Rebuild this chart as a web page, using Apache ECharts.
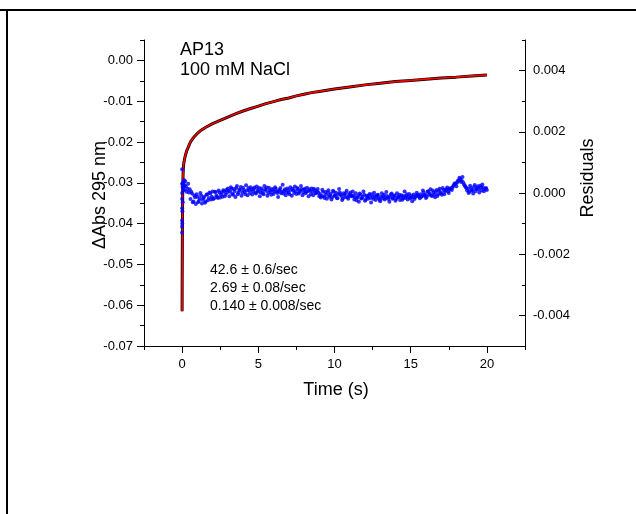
<!DOCTYPE html>
<html>
<head>
<meta charset="utf-8">
<script src="https://cdn.jsdelivr.net/npm/echarts@6/dist/echarts.min.js"></script>
<style>
html,body{margin:0;padding:0;background:#fff;}
#chart{width:636px;height:514px;}
</style>
</head>
<body>
<div id="chart"></div>
<script>
// ---- data ----
// measured trace (time s, ΔAbs)
const traceData = [
  [0, -0.0615], [0.005, -0.0548], [0.01, -0.0494], [0.015, -0.0450], [0.02, -0.0414],
  [0.03, -0.0360], [0.04, -0.0326], [0.05, -0.0302], [0.065, -0.0280], [0.08, -0.0265],
  [0.1, -0.0256], [0.12, -0.0250], [0.16, -0.0242], [0.2, -0.0235], [0.3, -0.0222],
  [0.4, -0.0213], [0.5, -0.0204], [0.6, -0.0197], [0.8, -0.0187], [1.0, -0.0179],
  [1.25, -0.0171], [1.5, -0.0165], [2, -0.0155], [2.5, -0.0147], [3, -0.0139],
  [3.5, -0.0131], [4, -0.0124], [4.5, -0.0118], [5, -0.0112], [5.5, -0.0106],
  [6, -0.0101], [6.5, -0.0096], [7, -0.0092], [7.5, -0.0087], [8, -0.0083],
  [8.5, -0.0079], [9, -0.0076], [9.5, -0.0073], [10, -0.0070], [11, -0.0065],
  [12, -0.0060], [13, -0.0056], [14, -0.0052], [15, -0.0049], [16, -0.0046],
  [17, -0.0043], [18, -0.0041], [19, -0.0038], [20, -0.0036]
];
// triple-exponential fit (overlays the trace)
const fitData = traceData;

// residuals (time s, residual)
const residuals = [
  [0, 0.00078], [0, -0.0013], [0, -0.0011], [0, -0.0009], [0, -0.0005], [0, 0.0003], [0, -0.0002],
  [0.01, -0.0010], [0.01, 0.0000], [0.02, -0.0006], [0.03, 0.0002], [0.04, -0.0003], [0.05, 0.0003],
  [0.07, 0.0001], [0.09, 0.00035], [0.11, 0.0002], [0.13, 0.00042], [0.15, 0.0001], [0.17, 0.00025],
  [0.2, 0.00038], [0.3, 0.00004], [0.4, 0.00030], [0.5, 0.00012],
  [0.6, 0.00004], [0.7, -0.00030], [0.8, -0.00008], [0.9, -0.00036], [1.0, -0.00012], [1.1, -0.00026],
  [1.2, 0.00000], [1.3, -0.00034], [1.4, -0.00016], [1.5, -0.00032], [1.6, -0.00006], [1.7, -0.00024], [1.8, 0.00002],
  [1.9, -0.00021], [2.0, 0.00005], [2.1, -0.00017], [2.2, 0.00003], [2.3, -0.00013], [2.4, 0.00008],
  [2.5, -0.00015], [2.6, 0.00001], [2.7, 0.00009], [2.8, -0.00011], [2.9, 0.00010],
  [3.0, 0.00015], [3.1, -0.00011], [3.2, 0.00019], [3.3, -0.00003], [3.4, 0.00013], [3.5, -0.00013],
  [3.6, 0.00023], [3.7, 0.00001], [3.8, 0.00011], [3.9, -0.00009],
  [4.0, 0.00017], [4.1, 0.00003], [4.2, 0.00025], [4.3, -0.00007], [4.4, 0.00009], [4.5, 0.00019],
  [4.6, -0.00005], [4.7, 0.00013], [4.8, 0.00001], [4.9, 0.00021],
  [5.0, 0.00005], [5.1, -0.00011], [5.2, 0.00015], [5.3, -0.00001], [5.4, 0.00023], [5.5, 0.00007],
  [5.6, -0.00009], [5.7, 0.00017], [5.8, 0.00003], [5.9, 0.00013],
  [6.0, -0.00003], [6.1, 0.00019], [6.2, 0.00005], [6.3, -0.00013], [6.4, 0.00011], [6.5, -0.00001],
  [6.6, 0.00027], [6.7, 0.00007], [6.8, -0.00007], [6.9, 0.00015],
  [7.0, 0.00001], [7.1, 0.00019], [7.2, -0.00009], [7.3, 0.00009], [7.4, 0.00021], [7.5, -0.00003],
  [7.6, 0.00013], [7.7, 0.00003], [7.8, 0.00023], [7.9, -0.00007],
  [8.0, 0.00011], [8.1, -0.00001], [8.2, 0.00017], [8.3, -0.00011], [8.4, 0.00007], [8.5, 0.00015],
  [8.6, -0.00007], [8.7, 0.00009], [8.8, -0.00001], [8.9, 0.00013], [9.0, -0.00011],
  [9.1, -0.00015], [9.2, 0.00011], [9.3, -0.00011], [9.4, 0.00003], [9.5, -0.00019], [9.6, 0.00009],
  [9.7, -0.00007], [9.8, -0.00021], [9.9, 0.00007], [10.0, -0.00009], [10.1, 0.00001], [10.2, -0.00017],
  [10.3, 0.00013], [10.4, -0.00005], [10.5, -0.00023], [10.6, -0.00001], [10.7, -0.00013], [10.8, 0.00007],
  [10.9, -0.00019], [11.0, -0.00003], [11.1, -0.00011], [11.2, 0.00005],
  [11.3, -0.00021], [11.4, -0.00001], [11.5, -0.00015], [11.6, -0.00029], [11.7, -0.00005], [11.8, -0.00017],
  [11.9, 0.00005], [12.0, -0.00025], [12.1, -0.00009], [12.2, -0.00019], [12.3, -0.00003], [12.4, -0.00031],
  [12.5, -0.00013], [12.6, 0.00001], [12.7, -0.00023], [12.8, -0.00007], [12.9, -0.00017], [13.0, -0.00027],
  [13.1, -0.00001], [13.2, -0.00011], [13.3, -0.00021], [13.4, 0.00003], [13.5, -0.00015], [13.6, -0.00029],
  [13.7, -0.00005], [13.8, -0.00019], [13.9, -0.00009], [14.0, -0.00025], [14.1, -0.00001], [14.2, -0.00013],
  [14.3, -0.00023], [14.4, -0.00007], [14.5, -0.00017], [14.6, 0.00005], [14.7, -0.00011], [14.8, -0.00021],
  [14.9, -0.00003], [15.0, -0.00015], [15.1, -0.00027], [15.2, -0.00005], [15.3, -0.00013], [15.4, 0.00001],
  [15.5, -0.00009], [15.6, -0.00017],
  [15.7, -0.00012], [15.8, 0.00008], [15.9, -0.00008], [16.0, -0.00016], [16.1, 0.00004], [16.2, -0.00006],
  [16.3, 0.00012], [16.4, -0.00010], [16.5, 0.00002], [16.6, -0.00014], [16.7, 0.00010], [16.8, -0.00004],
  [16.9, 0.00014], [17.0, -0.00002], [17.1, 0.00016], [17.2, -0.00004], [17.3, 0.00010], [17.4, 0.00018],
  [17.5, 0.00000], [17.6, 0.00012],
  [17.7, 0.00010], [17.8, 0.00024], [17.9, 0.00032], [18.0, 0.00022], [18.1, 0.00040], [18.2, 0.00050],
  [18.3, 0.00036], [18.4, 0.00052], [18.5, 0.00028], [18.6, 0.00020], [18.7, 0.00008],
  [18.8, 0.00000], [18.9, 0.00024], [19.0, 0.00008], [19.1, -0.00002], [19.2, 0.00026], [19.3, 0.00012],
  [19.4, 0.00022], [19.5, 0.00002], [19.6, 0.00018], [19.7, 0.00028], [19.8, 0.00006], [19.9, 0.00014], [20.0, 0.00010]
];
// residuals sampled between the points above
const residualsMid = [
  [0.25, 0.00022], [0.35, 0.00014], [0.45, 0.00002],
  [0.55, -0.00020], [0.65, -0.00002], [0.75, -0.00028], [0.85, -0.00014], [0.95, -0.00004], [1.05, -0.00030],
  [1.15, -0.00018], [1.25, -0.00008], [1.35, -0.00022], [1.45, -0.00012], [1.55, -0.00028], [1.65, -0.00004], [1.75, -0.00016],
  [1.85, -0.00002], [1.95, -0.00012], [2.05, -0.00020], [2.15, 0.00004], [2.25, -0.00008], [2.35, -0.00016],
  [2.45, 0.00002], [2.55, -0.00006], [2.65, -0.00012], [2.75, 0.00006], [2.85, -0.00004],
  [2.95, 0.00002], [3.05, 0.00008], [3.15, 0.00004], [3.25, 0.00014], [3.35, -0.00006], [3.45, 0.00006],
  [3.55, 0.00016], [3.65, -0.00004], [3.75, 0.00010], [3.85, 0.00020],
  [3.95, 0.00002], [4.05, 0.00010], [4.15, -0.00004], [4.25, 0.00008], [4.35, 0.00016], [4.45, 0.00000],
  [4.55, 0.00012], [4.65, 0.00006], [4.75, 0.00018], [4.85, -0.00002],
  [4.95, 0.00010], [5.05, 0.00016], [5.15, 0.00002], [5.25, 0.00008], [5.35, -0.00004], [5.45, 0.00012],
  [5.55, 0.00018], [5.65, 0.00000], [5.75, 0.00008], [5.85, -0.00006],
  [5.95, 0.00010], [6.05, 0.00004], [6.15, 0.00014], [6.25, 0.00000], [6.35, 0.00006], [6.45, 0.00016],
  [6.55, 0.00004], [6.65, -0.00002], [6.75, 0.00012], [6.85, 0.00002],
  [6.95, 0.00008], [7.05, -0.00004], [7.15, 0.00010], [7.25, 0.00014], [7.35, 0.00000], [7.45, 0.00006],
  [7.55, 0.00016], [7.65, -0.00002], [7.75, 0.00008], [7.85, 0.00012],
  [7.95, 0.00002], [8.05, 0.00014], [8.15, 0.00004], [8.25, 0.00006], [8.35, 0.00012], [8.45, -0.00004],
  [8.55, 0.00004], [8.65, 0.00014], [8.75, 0.00000], [8.85, 0.00006], [8.95, 0.00002],
  [9.05, -0.00004], [9.15, -0.00010], [9.25, 0.00004], [9.35, -0.00016], [9.45, -0.00006], [9.55, 0.00002],
  [9.65, -0.00012], [9.75, -0.00002], [9.85, -0.00014], [9.95, 0.00004], [10.05, -0.00008], [10.15, -0.00016],
  [10.25, -0.00004], [10.35, 0.00002], [10.45, -0.00010], [10.55, -0.00018], [10.65, -0.00006], [10.75, 0.00000],
  [10.85, -0.00014], [10.95, -0.00008], [11.05, 0.00002], [11.15, -0.00010],
  [11.25, -0.00008], [11.35, -0.00014], [11.45, -0.00024], [11.55, -0.00010], [11.65, -0.00002], [11.75, -0.00018],
  [11.85, -0.00012], [11.95, -0.00006], [12.05, -0.00022], [12.15, -0.00014], [12.25, -0.00008], [12.35, -0.00016],
  [12.45, -0.00004], [12.55, -0.00020], [12.65, -0.00010], [12.75, -0.00014], [12.85, -0.00006], [12.95, -0.00022],
  [13.05, -0.00012], [13.15, -0.00018], [13.25, -0.00006], [13.35, -0.00016], [13.45, -0.00010], [13.55, -0.00020],
  [13.65, -0.00012], [13.75, -0.00002], [13.85, -0.00016], [13.95, -0.00008], [14.05, -0.00020], [14.15, -0.00014],
  [14.25, -0.00006], [14.35, -0.00012], [14.45, -0.00022], [14.55, -0.00010], [14.65, -0.00016], [14.75, -0.00004],
  [14.85, -0.00012], [14.95, -0.00018], [15.05, -0.00008], [15.15, -0.00014], [15.25, -0.00020], [15.35, -0.00010],
  [15.45, -0.00006], [15.55, -0.00012],
  [15.65, -0.00004], [15.75, -0.00010], [15.85, 0.00002], [15.95, -0.00006], [16.05, -0.00012], [16.15, 0.00006],
  [16.25, -0.00002], [16.35, -0.00008], [16.45, 0.00008], [16.55, -0.00006], [16.65, 0.00004], [16.75, -0.00010],
  [16.85, 0.00008], [16.95, 0.00002], [17.05, -0.00006], [17.15, 0.00010], [17.25, 0.00004], [17.35, 0.00012],
  [17.45, 0.00006], [17.55, 0.00014],
  [17.65, 0.00016], [17.75, 0.00018], [17.85, 0.00028], [17.95, 0.00030], [18.05, 0.00034], [18.15, 0.00042],
  [18.25, 0.00046], [18.35, 0.00040], [18.45, 0.00034], [18.55, 0.00024], [18.65, 0.00016],
  [18.75, 0.00014], [18.85, 0.00004], [18.95, 0.00016], [19.05, 0.00010], [19.15, 0.00020], [19.25, 0.00006],
  [19.35, 0.00016], [19.45, 0.00012], [19.55, 0.00024], [19.65, 0.00008], [19.75, 0.00018], [19.85, 0.00012], [19.95, 0.00016]
];

// tick positions
const xMajorTicks = [0, 5, 10, 15, 20];
const xMinorTicks = [-2.5, 2.5, 7.5, 12.5, 17.5, 22.5];
const yLeftMajorTicks = [-0.07, -0.06, -0.05, -0.04, -0.03, -0.02, -0.01, 0.00];
const yLeftMinorTicks = [-0.065, -0.055, -0.045, -0.035, -0.025, -0.015, -0.005, 0.005];
const yRightMajorTicks = [-0.004, -0.002, 0.000, 0.002, 0.004];
const yRightMinorTicks = [-0.005, -0.003, -0.001, 0.001, 0.003, 0.005];

// texts
const sampleLines = ['AP13', '100 mM NaCl'];
const rateLines = ['42.6 \u00b1 0.6/sec', '2.69 \u00b1 0.08/sec', '0.140 \u00b1 0.008/sec'];
const xTitle = 'Time (s)';
const yLeftTitle = '\u0394Abs 295 nm';
const yRightTitle = 'Residuals';

const FONT = '"Liberation Sans", Arial, sans-serif';
const lineOn = { show: true, onZero: false, lineStyle: { color: '#000', width: 1 } };
const lineOff = { show: false, onZero: false };
const lblStyle = { color: '#000', fontFamily: FONT, fontSize: 13 };

const chart = echarts.init(document.getElementById('chart'), null, { renderer: 'canvas' });

const X_MIN = -2.5, X_MAX = 22.5;
const YL_MIN = -0.07, YL_MAX = 0.005;
const YR_MIN = -0.005, YR_MAX = 0.005;

const option = {
  animation: false,
  backgroundColor: '#fff',
  grid: { left: 144, top: 40, width: 381, height: 306, containLabel: false },
  xAxis: [
    {
      type: 'value', min: X_MIN, max: X_MAX, position: 'bottom',
      axisLine: lineOn,
      axisTick: { show: true, length: 7, lineStyle: { color: '#000' }, customValues: xMajorTicks },
      axisLabel: { show: true, margin: 12, customValues: xMajorTicks, formatter: v => String(v), ...lblStyle },
      splitLine: { show: false }
    },
    {
      type: 'value', min: X_MIN, max: X_MAX, position: 'bottom',
      axisLine: lineOff,
      axisTick: { show: true, length: 4, lineStyle: { color: '#000' }, customValues: xMinorTicks },
      axisLabel: { show: false },
      splitLine: { show: false }
    }
  ],
  yAxis: [
    {
      type: 'value', min: YL_MIN, max: YL_MAX, position: 'left',
      axisLine: lineOn,
      axisTick: { show: true, length: 7, lineStyle: { color: '#000' }, customValues: yLeftMajorTicks },
      axisLabel: { show: true, margin: 11, customValues: yLeftMajorTicks, formatter: v => v.toFixed(2), ...lblStyle },
      splitLine: { show: false }
    },
    {
      type: 'value', min: YR_MIN, max: YR_MAX, position: 'right',
      axisLine: lineOn,
      axisTick: { show: true, inside: true, length: 6, lineStyle: { color: '#000' }, customValues: yRightMajorTicks },
      axisLabel: { show: true, margin: 8, customValues: yRightMajorTicks, formatter: v => v.toFixed(3), ...lblStyle },
      splitLine: { show: false }
    },
    {
      type: 'value', min: YL_MIN, max: YL_MAX, position: 'left',
      axisLine: lineOff,
      axisTick: { show: true, length: 4, lineStyle: { color: '#000' }, customValues: yLeftMinorTicks },
      axisLabel: { show: false },
      splitLine: { show: false }
    },
    {
      type: 'value', min: YR_MIN, max: YR_MAX, position: 'right',
      axisLine: lineOff,
      axisTick: { show: true, inside: true, length: 3, lineStyle: { color: '#000' }, customValues: yRightMinorTicks },
      axisLabel: { show: false },
      splitLine: { show: false }
    }
  ],
  series: [
    {
      name: 'data', type: 'line', xAxisIndex: 0, yAxisIndex: 0, data: traceData,
      showSymbol: false, symbol: 'none', smooth: false,
      lineStyle: { color: '#000', width: 3 }, z: 2
    },
    {
      name: 'fit', type: 'line', xAxisIndex: 0, yAxisIndex: 0, data: fitData,
      showSymbol: false, symbol: 'none', smooth: false,
      lineStyle: { color: '#ff0000', width: 1.6 }, z: 3
    },
    {
      name: 'residuals', type: 'scatter', xAxisIndex: 0, yAxisIndex: 1, data: residuals.concat(residualsMid),
      symbol: 'circle', symbolSize: 4,
      itemStyle: { color: '#0000ff' }, z: 4
    }
  ],
  graphic: [
    { type: 'line', shape: { x1: 0, y1: 10, x2: 636, y2: 10 }, style: { stroke: '#000', lineWidth: 2 } },
    { type: 'line', shape: { x1: 7, y1: 10, x2: 7, y2: 514 }, style: { stroke: '#000', lineWidth: 2 } },
    { type: 'text', x: 180, y: 50, style: { text: sampleLines[0], fill: '#000', font: '18px ' + FONT, textAlign: 'left', textVerticalAlign: 'middle' } },
    { type: 'text', x: 180, y: 70, style: { text: sampleLines[1], fill: '#000', font: '18px ' + FONT, textAlign: 'left', textVerticalAlign: 'middle' } },
    { type: 'text', x: 210, y: 270, style: { text: rateLines[0], fill: '#000', font: '14px ' + FONT, textAlign: 'left', textVerticalAlign: 'middle' } },
    { type: 'text', x: 210, y: 288, style: { text: rateLines[1], fill: '#000', font: '14px ' + FONT, textAlign: 'left', textVerticalAlign: 'middle' } },
    { type: 'text', x: 210, y: 306, style: { text: rateLines[2], fill: '#000', font: '14px ' + FONT, textAlign: 'left', textVerticalAlign: 'middle' } },
    { type: 'text', x: 336, y: 390, style: { text: xTitle, fill: '#000', font: '18px ' + FONT, textAlign: 'center', textVerticalAlign: 'middle' } },
    { type: 'text', x: 100, y: 195, rotation: Math.PI / 2, style: { text: yLeftTitle, fill: '#000', font: '18px ' + FONT, textAlign: 'center', textVerticalAlign: 'middle' } },
    { type: 'text', x: 588, y: 178, rotation: Math.PI / 2, style: { text: yRightTitle, fill: '#000', font: '18px ' + FONT, textAlign: 'center', textVerticalAlign: 'middle' } }
  ]
};
chart.setOption(option);
</script>
</body>
</html>
